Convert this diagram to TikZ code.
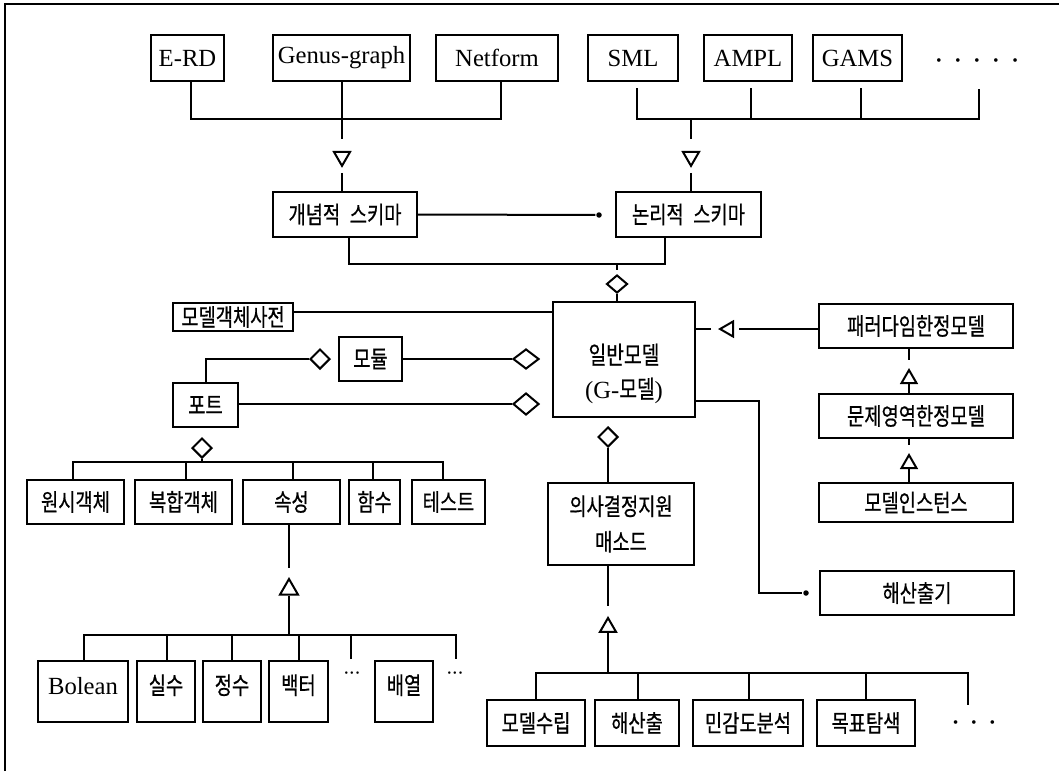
\documentclass[tikz,border=0pt]{standalone}
\usepackage{fontspec}
\setmainfont{Liberation Serif}
\newfontfamily\kr[FakeStretch=0.78, FakeBold=0.6]{Noto Sans CJK KR}
\usetikzlibrary{shapes.geometric,calc}
% a row of evenly spread dots: width, count
\newcommand\dotrowbox[2]{\makebox[#1]{\fontsize{6}{6}\selectfont\foreach \k in {1,...,#2}{\ifnum\k>1 \hfill\fi$\bullet$}}}
\begin{document}
\begin{tikzpicture}[x=0.75pt,y=-0.75pt,line width=1.5pt,
  box/.style={draw, rectangle, inner sep=0pt, font=\fontsize{18.5}{22}\selectfont},
  kbox/.style={box, font=\fontsize{18}{22}\selectfont\kr},
  sz/.style 2 args={minimum width=#1*0.75pt, minimum height=#2*0.75pt},
  row2/.style={text height=12.5pt, text depth=8.5pt},
  agg/.style 2 args={diamond, draw, inner sep=0pt, minimum width=#1*0.75pt, minimum height=#2*0.75pt},
  genup/.style={regular polygon, regular polygon sides=3, draw, inner sep=0pt, minimum size=#1*0.75pt},
  gendown/.style={genup=#1, shape border rotate=180},
  genleft/.style={genup=#1, shape border rotate=90},
  joint/.style={circle, fill, inner sep=0pt, minimum size=5.5*0.75pt},
  ellip/.style={inner sep=0pt},
]
\fill[white] (0,0) rectangle (1059,771);
\useasboundingbox (0,0) rectangle (1059,771);
% frame
\draw[line width=1pt] (5,771) -- (5,4) -- (1059,4);

% modelling notations
\node[box,sz={73}{46}] (erd) at (187.5,58) {E-RD};
\node[box,sz={137}{46}] (genus) at (341.5,58) {Genus-graph};
\node[box,sz={122}{46}] (netform) at (497,58) {Netform};
\node[box,sz={90}{46}] (sml) at (633,58) {SML};
\node[box,sz={88}{46}] (ampl) at (748,58) {AMPL};
\node[box,sz={89}{46}] (gams) at (857.5,58) {GAMS};
\node[ellip] (etc1) at (977,61) {\dotrowbox{61pt}{5}};

% schemas
\node[kbox,sz={144}{45}] (concept) at (345,214.5) {개념적\hspace{0.4em}스키마};
\node[kbox,sz={145}{45}] (logical) at (688.5,214.5) {논리적\hspace{0.4em}스키마};

% general model and its parts
\node[kbox,sz={120}{28}] (dict) at (233,317) {모델객체사전};
\node[kbox,sz={63}{44}] (module) at (370.5,359) {모듈};
\node[kbox,sz={65}{44}] (port) at (205.5,405) {포트};
\node[box,sz={142}{115},
  label={[name=gtext, align=center, font=\fontsize{18.5}{25.5}\selectfont, yshift=-10.5pt]center:{\kr 일반모델}\\(G-{\kr 모델})}] (gmodel) at (624,359.5) {};
\node[kbox,sz={146}{82}, align=center, font=\fontsize{18}{26.6}\selectfont\kr] (dss) at (621,524) {의사결정지원\\매소드};

% specialised models
\node[kbox,sz={194}{44}] (paradigm) at (916,326) {패러다임한정모델};
\node[kbox,sz={194}{44}] (domain) at (916,416) {문제영역한정모델};
\node[kbox,sz={194}{39}] (instance) at (916,502.5) {모델인스턴스};
\node[kbox,sz={194}{44}] (solver) at (917,593) {해산출기};

% port components
\node[kbox,sz={97}{44}] (prim) at (75.5,502) {원시객체};
\node[kbox,sz={97}{44}] (comp) at (183.5,502) {복합객체};
\node[kbox,sz={97}{44}] (attr) at (291.5,502) {속성};
\node[kbox,sz={51}{44}] (func) at (374.5,502) {함수};
\node[kbox,sz={73}{44}] (test) at (448.5,502) {테스트};

% attribute types
\node[box,row2,sz={90}{61}] (bool) at (83,691.5) {Bolean};
\node[kbox,row2,sz={58}{61}] (real) at (166,691.5) {실수};
\node[kbox,row2,sz={58}{61}] (intg) at (232,691.5) {정수};
\node[kbox,row2,sz={59}{61}] (vec) at (298.5,691.5) {백터};
\node[kbox,row2,sz={58}{61}] (arr) at (404,691.5) {배열};
\node[ellip, scale=0.7] (etc2) at (352,673) {\dotrowbox{16pt}{3}};
\node[ellip, scale=0.7] (etc3) at (455,673) {\dotrowbox{16pt}{3}};

% decision support methods
\node[kbox,sz={98}{46}] (build) at (536,723) {모델수립};
\node[kbox,sz={84}{46}] (sol) at (637,723) {해산출};
\node[kbox,sz={110}{46}] (sens) at (748,723) {민감도분석};
\node[kbox,sz={98}{46}] (goal) at (866,723) {목표탐색};
\node[ellip] (etc4) at (974,723) {\dotrowbox{31.5pt}{3}};

% markers
\node[gendown=18.5] (tri1) at (342,156.6) {};
\node[gendown=18.5] (tri2) at (691,156.6) {};
\node[genup=20.8] (tri3) at (289,589.4) {};
\node[genup=18.7] (tri4) at (608,627.3) {};
\node[genleft=17.3] (tri5) at (728.7,329) {};
\node[genup=17.3] (tri6) at (909,378.7) {};
\node[genup=17.3] (tri7) at (909,463.7) {};
\node[agg={21}{18}] (d1) at (617,284) {};
\node[agg={26}{20}] (d2) at (526,359) {};
\node[agg={20}{20}] (d3) at (320,359) {};
\node[agg={26}{22}] (d4) at (526,404) {};
\node[agg={20}{20}] (d5) at (202,448) {};
\node[agg={20}{20}] (d6) at (608,437) {};
\node[joint] (dot1) at (599,215) {};
\node[joint] (dot2) at (806,593) {};

% notation buses
\coordinate (b1) at (342,119);
\coordinate (b2) at (691,119);
\coordinate (more) at (979,89);
\draw ($(erd.south)+(3,0)$) |- (b1) -| ($(netform.south)+(4,0)$);
\draw[shorten >=9pt] (genus.south -| tri1) -- (tri1);
\draw[shorten <=3.75pt] (tri1) -- (tri1 |- concept.north);
\draw[shorten <=4.5pt] ($(sml.south)+(4,0)$) |- (b2) -| (more);
\draw[shorten <=4.5pt] ($(ampl.south)+(3,0)$) coordinate (ad) -- (ad |- b2);
\draw[shorten <=4.5pt] ($(gams.south)+(3.5,0)$) coordinate (gd) -- (gd |- b2);
\draw[shorten >=9pt] (b2) -- (tri2);
\draw[shorten <=3.75pt] (tri2) -- (tri2 |- logical.north);

% schemas to general model
\draw (concept.east) -- (dot1);
\coordinate (b3) at (617,264);
\draw ($(concept.south)+(4,0)$) |- (b3) -| ($(logical.south)+(-23.5,0)$);
\draw[shorten >=3pt] (b3) -- (d1);
\draw (d1) -- (d1 |- gmodel.north);

% dictionary, module, port
\path ($(dict.east)+(0,-5)$) coordinate (dl);
\draw (dl) -- (dl -| gmodel.west);
\draw (module.east) -- (d2.west);
\draw (d3.west) -| (port.north);
\draw (port.east |- d4) -- (d4.west);
\coordinate (b4) at (202,462);
\draw (d5.south) -- (b4);
\draw ($(prim.north)+(-2.5,0)$) |- (b4) -| ($(test.north)+(-5.5,0)$);
\draw ($(comp.north)+(2.5,0)$) coordinate (cd) -- (cd |- b4);
\draw ($(attr.north)+(1.5,0)$) coordinate (atd) -- (atd |- b4);
\draw ($(func.north)+(-1.5,0)$) coordinate (fd) -- (fd |- b4);

% attribute generalisation
\draw[shorten >=6.75pt] (attr.south -| tri3) -- (tri3);
\coordinate (b5) at (289,635);
\coordinate (more2) at (351,659);
\coordinate (more3) at (456,659);
\draw (tri3) -- (b5);
\draw ($(bool.north)+(1,0)$) |- (b5) -| (more3);
\draw ($(real.north)+(1,0)$) coordinate (rd) -- (rd |- b5);
\draw (intg.north) -- (intg.north |- b5);
\draw ($(vec.north)+(0.5,0)$) coordinate (vd) -- (vd |- b5);
\draw (more2) -- (more2 |- b5);

% decision support methods
\draw (d6) -- (d6 |- dss.north);
\draw[shorten >=7.5pt] (dss.south -| tri4) -- (tri4);
\coordinate (b6) at (608,673);
\coordinate (more4) at (968,705);
\draw (tri4) -- (b6);
\draw (build.north) |- (b6) -| (more4);
\draw ($(sol.north)+(1,0)$) coordinate (sd) -- (sd |- b6);
\draw ($(sens.north)+(1,0)$) coordinate (se) -- (se |- b6);
\draw (goal.north) -- (goal.north |- b6);

% solver link
\path ($(gmodel.east)+(0,41.5)$) coordinate (gs);
\draw (gs) -- ++(63,0) |- (dot2);

% specialisation chain
\draw[shorten >=3.75pt] (paradigm.west |- tri5) -- (tri5);
\draw[shorten <=5.25pt] (tri5) -- (tri5 -| gmodel.east);
\draw[shorten >=6pt] (paradigm.south -| tri6) -- (tri6);
\draw (tri6) -- (tri6 |- domain.north);
\draw[shorten >=6pt] (domain.south -| tri7) -- (tri7);
\draw (tri7) -- (tri7 |- instance.north);
\end{tikzpicture}
\end{document}
